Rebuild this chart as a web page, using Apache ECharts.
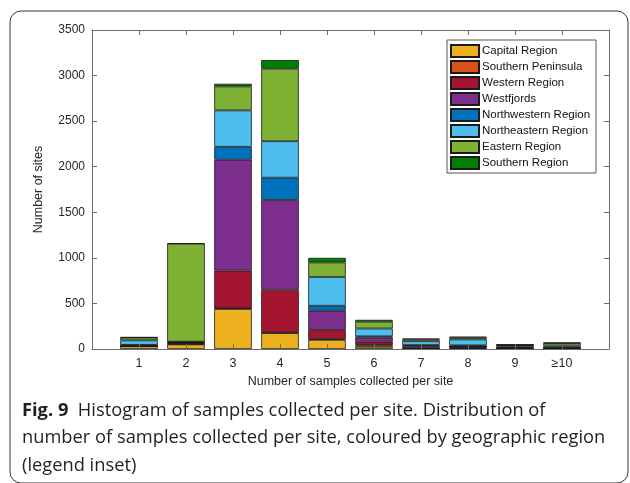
<!DOCTYPE html>
<html><head><meta charset="utf-8">
<script src="https://cdn.jsdelivr.net/npm/echarts@6/dist/echarts.min.js"></script>
<style>html,body{margin:0;padding:0;background:#fff}#c{width:630px;height:483px}</style>
</head><body><div id="c"></div>
<script>
const categories = ['1','2','3','4','5','6','7','8','9','\u226510'];
const regions = ['Capital Region','Southern Peninsula','Western Region','Westfjords','Northwestern Region','Northeastern Region','Eastern Region','Southern Region'];
const colors = ['#EDB120','#D95319','#A2142F','#7E2F8E','#0072BD','#4DBEEE','#7FB134','#008000'];
const capital      = [30,  50, 440, 175, 100, 25, 5, 10, 5, 3];
const southernPen  = [0,    5,   5,   5,  10, 20, 2,  5, 2, 2];
const western      = [5,   10, 415, 470, 100, 35, 8, 10, 5, 3];
const westfjords   = [5,    5,1218, 985, 210, 45,20,  5, 5, 2];
const northwestern = [5,    5, 140, 245,  55, 15, 8, 10,10, 8];
const northeastern = [50,   5, 400, 400, 315, 85,42, 65,15,20];
const eastern      = [30,1075, 263, 795, 160, 75,20, 20, 3,27];
const southern     = [5,    5,  29,  95,  50, 20,10, 10, 3, 5];
const seriesValues = [capital, southernPen, western, westfjords, northwestern, northeastern, eastern, southern];
const yTicks = [0,500,1000,1500,2000,2500,3000,3500];

const chart = echarts.init(document.getElementById('c'));
const axisColor = '#6b6b6b';
const txt = '#262626';
const font = 'Liberation Sans, Arial, sans-serif';
const W = 630, L = 92, R = 21;
const slot = (W - L - R) / (categories.length + 1);
const tickPos = categories.map((c, i) => i + 1);
const series = regions.map((name, k) => ({
  name, type: 'bar', stack: 'total', barWidth: '80%', xAxisIndex: 0, yAxisIndex: 0,
  itemStyle: { color: colors[k], borderColor: '#1a1a1a', borderWidth: 0.8 },
  data: seriesValues[k]
}));
const xTick = { show: true, inside: true, length: 5, lineStyle: { color: axisColor }, customValues: tickPos };
const yTick = { show: true, inside: true, length: 5, lineStyle: { color: axisColor } };
const boxLine = { show: true, onZero: false, lineStyle: { color: axisColor } };
chart.setOption({
  animation: false,
  grid: [
    { left: L + slot / 2, right: R + slot / 2, top: 30, bottom: 134 },
    { left: L, right: R, top: 30, bottom: 134 }
  ],
  xAxis: [{
    type: 'category', gridIndex: 0, data: categories, boundaryGap: true,
    axisLine: { show: false }, axisTick: { show: false },
    axisLabel: { color: txt, fontSize: 12.5, fontFamily: font, margin: 8 }
  }, {
    type: 'value', gridIndex: 1, min: 0, max: categories.length + 1, interval: 1, z: 10,
    name: 'Number of samples collected per site', nameLocation: 'middle', nameGap: 26,
    nameTextStyle: { color: txt, fontSize: 12.5, fontFamily: font },
    axisLine: boxLine, axisTick: xTick, axisLabel: { show: false }, splitLine: { show: false }
  }, {
    type: 'value', gridIndex: 1, position: 'top', min: 0, max: categories.length + 1, interval: 1, z: 10,
    axisLine: boxLine, axisTick: xTick, axisLabel: { show: false }, splitLine: { show: false }
  }],
  yAxis: [{
    type: 'value', gridIndex: 0, min: yTicks[0], max: yTicks[yTicks.length - 1], show: false
  }, {
    type: 'value', gridIndex: 1, min: yTicks[0], max: yTicks[yTicks.length - 1], interval: 500, z: 10,
    name: 'Number of sites', nameLocation: 'middle', nameGap: 47, nameRotate: 90,
    nameTextStyle: { color: txt, fontSize: 12.5, fontFamily: font },
    axisLine: boxLine, axisTick: yTick,
    axisLabel: { color: txt, fontSize: 12, fontFamily: font, margin: 7, formatter: v => String(v) },
    splitLine: { show: false }
  }, {
    type: 'value', gridIndex: 1, position: 'right', min: yTicks[0], max: yTicks[yTicks.length - 1], interval: 500, z: 10,
    axisLine: boxLine, axisTick: yTick, axisLabel: { show: false }, splitLine: { show: false }
  }],
  legend: {
    data: regions, orient: 'vertical', left: 447, top: 40,
    itemWidth: 28, itemHeight: 12, itemGap: 2, padding: [4, 6, 3, 3],
    icon: 'rect', backgroundColor: '#fff', borderColor: '#555', borderWidth: 1,
    textStyle: { color: '#111', fontSize: 11.5, fontFamily: font, padding: [0,0,0,-2] },
    selectedMode: false
  },
  graphic: [
    { type: 'rect', shape: { x: 10, y: 11, width: 618, height: 472, r: 11 },
      style: { fill: 'none', stroke: '#333', lineWidth: 1 }, z: -1, silent: true },
    { type: 'text', left: 22, top: 397,
      style: {
        text: '{b|Fig. 9}  Histogram of samples collected per site. Distribution of\nnumber of samples collected per site, coloured by geographic region\n(legend inset)',
        font: '18.3px "Open Sans", sans-serif', fill: '#231f20', lineHeight: 27.5,
        rich: { b: { font: 'bold 18.3px "Open Sans", sans-serif', fill: '#231f20', lineHeight: 27.5 } }
      } }
  ],
  series
});
</script></body></html>
